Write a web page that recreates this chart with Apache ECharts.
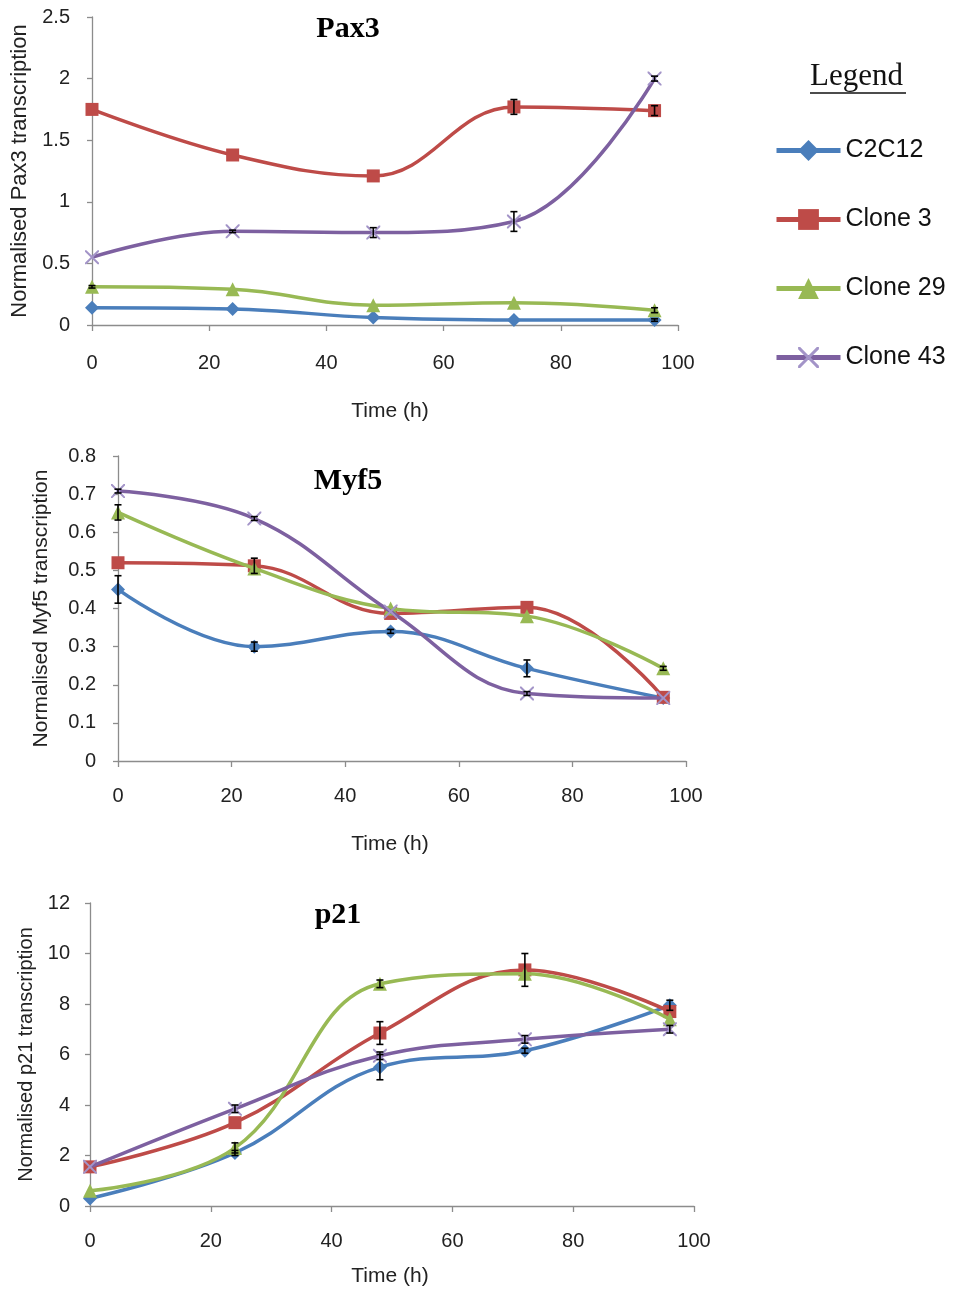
<!DOCTYPE html>
<html><head><meta charset="utf-8">
<script src="https://cdn.jsdelivr.net/npm/echarts@6/dist/echarts.min.js"></script>
<style>html,body{margin:0;padding:0;background:#fff}#c{width:954px;height:1291px}</style>
</head><body><div id="c"></div>
<script>
// ---- data ----
const times = [0, 24, 48, 72, 96];
const seriesNames = ['C2C12', 'Clone 3', 'Clone 29', 'Clone 43'];
const xTicks = [0, 20, 40, 60, 80, 100];

// Pax3
const pax3C2C12 = [0.14, 0.13, 0.06, 0.04, 0.04];
const pax3Clone3 = [1.75, 1.38, 1.21, 1.77, 1.74];
const pax3Clone29 = [0.31, 0.29, 0.16, 0.18, 0.12];
const pax3Clone43 = [0.55, 0.76, 0.75, 0.84, 2.00];
const pax3ErrC2C12 = [0, 0, 0, 0, 0.01];
const pax3ErrClone3 = [0, 0, 0, 0.06, 0.04];
const pax3ErrClone29 = [0.01, 0, 0, 0, 0.02];
const pax3ErrClone43 = [0, 0.01, 0.04, 0.08, 0.02];

// Myf5
const myf5C2C12 = [0.45, 0.30, 0.34, 0.243, 0.165];
const myf5Clone3 = [0.52, 0.512, 0.387, 0.403, 0.167];
const myf5Clone29 = [0.652, 0.505, 0.40, 0.38, 0.243];
const myf5Clone43 = [0.708, 0.636, 0.392, 0.177, 0.165];
const myf5ErrC2C12 = [0.036, 0.012, 0.005, 0.022, 0];
const myf5ErrClone3 = [0, 0.02, 0, 0, 0];
const myf5ErrClone29 = [0.02, 0, 0, 0, 0.005];
const myf5ErrClone43 = [0.005, 0.005, 0, 0.005, 0];

// p21
const p21C2C12 = [0.3, 2.1, 5.5, 6.15, 7.95];
const p21Clone3 = [1.55, 3.3, 6.85, 9.35, 7.7];
const p21Clone29 = [0.6, 2.3, 8.8, 9.2, 7.4];
const p21Clone43 = [1.55, 3.85, 5.95, 6.6, 7.0];
const p21ErrC2C12 = [0, 0.1, 0.5, 0.1, 0.2];
const p21ErrClone3 = [0, 0, 0.45, 0.65, 0];
const p21ErrClone29 = [0, 0.2, 0.15, 0, 0];
const p21ErrClone43 = [0, 0.15, 0.15, 0.15, 0.15];

// ---- style ----
const colors = ['#4a7ebb', '#be4b48', '#98b954', '#7d60a0'];
const markerColors = ['#4a7ebb', '#be4b48', '#98b954', '#a394c8'];
const crossPath = 'path://M0,0L2,0L10,8L18,0L20,0L20,2L12,10L20,18L20,20L18,20L10,12L2,20L0,20L0,18L8,10L0,2Z';
const symbols = ['diamond', 'rect', 'triangle', crossPath];
const symbolSizes = [14, 13, 14, 14];
const axisFont = 'Liberation Sans';

const charts = [
  { title: 'Pax3', yName: 'Normalised Pax3 transcription', yMax: 2.5, yInt: 0.5,
    vals: [pax3C2C12, pax3Clone3, pax3Clone29, pax3Clone43],
    errs: [pax3ErrC2C12, pax3ErrClone3, pax3ErrClone29, pax3ErrClone43] },
  { title: 'Myf5', yName: 'Normalised Myf5 transcription', yMax: 0.8, yInt: 0.1,
    vals: [myf5C2C12, myf5Clone3, myf5Clone29, myf5Clone43],
    errs: [myf5ErrC2C12, myf5ErrClone3, myf5ErrClone29, myf5ErrClone43] },
  { title: 'p21', yName: 'Normalised p21 transcription', yMax: 12, yInt: 2,
    vals: [p21C2C12, p21Clone3, p21Clone29, p21Clone43],
    errs: [p21ErrC2C12, p21ErrClone3, p21ErrClone29, p21ErrClone43] }
];

const layout = [
  { grid: { left: 92, right: 276, top: 17, bottom: 966 }, title: { left: 348, top: 14 }, xMargin: 28, xGap: 76, xPad: [0, 0, 0, 10], yMargin: 22, yGap: 59, yFont: 22 },
  { grid: { left: 118, right: 268, top: 456, bottom: 530 }, title: { left: 348, top: 466 }, xMargin: 25, xGap: 73, xPad: [0, 24, 0, 0], yMargin: 22, yGap: 66, yFont: 21 },
  { grid: { left: 90, right: 260, top: 903, bottom: 85 }, title: { left: 338, top: 900 }, xMargin: 25, xGap: 60, xPad: [0, 4, 0, 0], yMargin: 20, yGap: 48, yFont: 20 }
];

const axisLineStyle = { color: '#8c8c8c', width: 1.3 };

const grids = [], xAxes = [], yAxes = [], titles = [], series = [];

charts.forEach((ch, k) => {
  const L = layout[k];
  grids.push(Object.assign({ containLabel: false }, L.grid));
  titles.push({ text: ch.title, left: L.title.left, top: L.title.top, textAlign: 'center', padding: 0,
    textStyle: { fontFamily: 'Liberation Serif', fontWeight: 'bold', fontSize: 30, color: '#000' } });
  xAxes.push({ type: 'value', gridIndex: k, min: xTicks[0], max: xTicks[xTicks.length - 1], interval: xTicks[1] - xTicks[0],
    name: 'Time (h)', nameLocation: 'middle', nameGap: L.xGap,
    nameTextStyle: { fontFamily: axisFont, fontSize: 21, color: '#222', padding: L.xPad },
    axisLine: { show: true, lineStyle: axisLineStyle },
    axisTick: { show: true, length: 6, lineStyle: axisLineStyle },
    axisLabel: { margin: L.xMargin, fontFamily: axisFont, fontSize: 20, color: '#222' },
    splitLine: { show: false } });
  yAxes.push({ type: 'value', gridIndex: k, min: 0, max: ch.yMax, interval: ch.yInt,
    name: ch.yName, nameLocation: 'middle', nameGap: L.yGap, nameRotate: 90,
    nameTextStyle: { fontFamily: axisFont, fontSize: L.yFont, color: '#222' },
    axisLine: { show: true, lineStyle: axisLineStyle },
    axisTick: { show: true, length: 5, lineStyle: axisLineStyle },
    axisLabel: { margin: L.yMargin, fontFamily: axisFont, fontSize: 20, color: '#222' },
    splitLine: { show: false } });

  const errData = [];
  ch.vals.forEach((vals, s) => {
    series.push({
      name: seriesNames[s], type: 'line', xAxisIndex: k, yAxisIndex: k,
      data: times.map((t, i) => [t, vals[i]]),
      smooth: 0.4, symbol: symbols[s], symbolSize: symbolSizes[s],
      lineStyle: { color: colors[s], width: 3.5 },
      itemStyle: { color: markerColors[s] },
      z: 2 + s, animation: false
    });
    ch.errs[s].forEach((e, i) => { if (e > 0) errData.push([times[i], vals[i], e]); });
  });
  series.push({
    name: 'err' + k, type: 'custom', xAxisIndex: k, yAxisIndex: k, z: 10, animation: false,
    data: errData, silent: true,
    renderItem: function (params, api) {
      const x = api.value(0), y = api.value(1), e = api.value(2);
      const top = api.coord([x, y + e]);
      const bot = api.coord([x, y - e]);
      const w = 3.5;
      const st = { stroke: '#000', lineWidth: 1.6 };
      return { type: 'group', children: [
        { type: 'line', shape: { x1: top[0], y1: top[1], x2: bot[0], y2: bot[1] }, style: st },
        { type: 'line', shape: { x1: top[0] - w, y1: top[1], x2: top[0] + w, y2: top[1] }, style: st },
        { type: 'line', shape: { x1: bot[0] - w, y1: bot[1], x2: bot[0] + w, y2: bot[1] }, style: st }
      ] };
    }
  });
});

const chart = echarts.init(document.getElementById('c'), null, { renderer: 'canvas' });
chart.setOption({
  backgroundColor: '#fff',
  animation: false,
  title: titles,
  grid: grids,
  xAxis: xAxes,
  yAxis: yAxes,
  legend: {
    data: seriesNames, orient: 'vertical', left: 774, top: 138, padding: 0,
    itemWidth: 64, itemHeight: 26, itemGap: 44,
    lineStyle: { width: 5 },
    textStyle: { fontFamily: axisFont, fontSize: 25, color: '#111' },
    selectedMode: false
  },
  graphic: [
    { type: 'text', left: 810, top: 61, style: { text: 'Legend', fontFamily: 'Liberation Serif', fontSize: 31, fill: '#111' } },
    { type: 'line', shape: { x1: 810, y1: 93, x2: 906, y2: 93 }, style: { stroke: '#111', lineWidth: 1.3 } }
  ],
  series: series
});
</script>
</body></html>
